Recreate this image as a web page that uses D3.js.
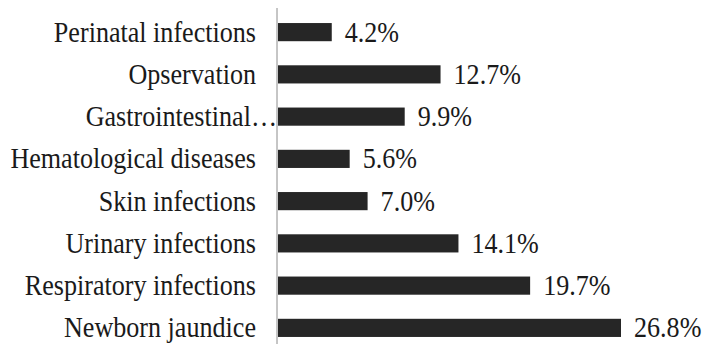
<!DOCTYPE html>
<html>
<head>
<meta charset="utf-8">
<script src="https://cdn.jsdelivr.net/npm/d3@7"></script>
<style>
  body { margin: 0; background: #fff; }
</style>
</head>
<body>
<script>
var categories = [ "Perinatal infections", "Opservation", "Gastrointestinal\u2026",
                   "Hematological diseases", "Skin infections", "Urinary infections",
                   "Respiratory infections", "Newborn jaundice" ];
var values = [ 4.2, 12.7, 9.9, 5.6, 7.0, 14.1, 19.7, 26.8 ];
var valueLabels = [ "4.2%", "12.7%", "9.9%", "5.6%", "7.0%", "14.1%", "19.7%", "26.8%" ];

var width = 703, height = 344;
var axisX = 277;
var serif = "'Liberation Serif', 'Times New Roman', serif";

var svg = d3.select( "body" )
            .append( "svg" )
              .attr( "width", width )
              .attr( "height", height );

var x = d3.scaleLinear()
          .domain( [ 0, 26.8 ] )
          .range( [ axisX, 620 ] );

var y = d3.scaleBand()
          .domain( categories )
          .range( [ 11, 349 ] )
          .paddingInner( 0.57 )
          .paddingOuter( 0.285 );

// bars
svg.selectAll( "rect" )
   .data( values )
   .enter()
   .append( "rect" )
     .attr( "x", x( 0 ) + 1 )
     .attr( "y", function( d, i ){ return y( categories[i] ); } )
     .attr( "width", function( d ){ return x( d ) - x( 0 ); } )
     .attr( "height", y.bandwidth() )
     .attr( "fill", "#262626" );

// vertical axis line
svg.append( "line" )
   .attr( "x1", axisX ).attr( "x2", axisX )
   .attr( "y1", 8 ).attr( "y2", height )
   .attr( "stroke", "#8c8c8c" )
   .attr( "stroke-width", 1 );

// category labels (text in the source is tall and narrow)
svg.selectAll( "text.cat" )
   .data( categories )
   .enter()
   .append( "text" )
     .attr( "class", "cat" )
     .attr( "transform", function( d ){
       var tx = d.indexOf( "\u2026" ) > 0 ? axisX : axisX - 21;
       return "translate(" + tx + "," + ( y( d ) + y.bandwidth() / 2 ) + ") scale(0.9,1)";
     })
     .attr( "dy", "0.33em" )
     .attr( "text-anchor", "end" )
     .attr( "font-family", serif )
     .attr( "font-size", 29 )
     .attr( "fill", "#1a1a1a" )
     .text( function( d ){ return d; } );

// value labels
svg.selectAll( "text.val" )
   .data( values )
   .enter()
   .append( "text" )
     .attr( "class", "val" )
     .attr( "transform", function( d, i ){
       return "translate(" + ( x( d ) + 14 ) + "," + ( y( categories[i] ) + y.bandwidth() / 2 ) + ") scale(0.9,1)";
     })
     .attr( "dy", "0.33em" )
     .attr( "font-family", serif )
     .attr( "font-size", 29 )
     .attr( "fill", "#1a1a1a" )
     .text( function( d, i ){ return valueLabels[i]; } );
</script>
</body>
</html>
